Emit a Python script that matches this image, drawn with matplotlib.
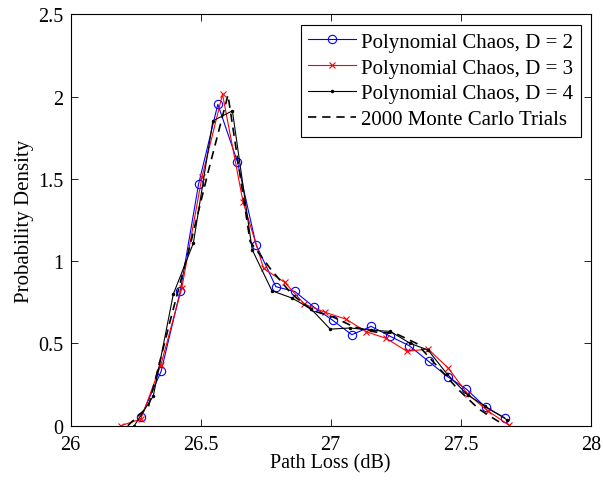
import matplotlib
matplotlib.use('Agg')
import matplotlib.pyplot as plt

plt.rcParams['font.family'] = 'Liberation Serif'
plt.rcParams['mathtext.fontset'] = 'stix'

# D = 2
x_d2 = [26.271, 26.348, 26.422, 26.492, 26.566, 26.641, 26.713, 26.789, 26.862, 26.937,
        27.008, 27.081, 27.155, 27.229, 27.302, 27.376, 27.449, 27.521, 27.595, 27.668]
y_d2 = [0.055, 0.33, 0.82, 1.468, 1.954, 1.606, 1.10, 0.845, 0.816, 0.719,
        0.64, 0.553, 0.604, 0.543, 0.486, 0.391, 0.298, 0.223, 0.112, 0.049]

# D = 3
x_d3 = [26.193, 26.270, 26.347, 26.428, 26.505, 26.584, 26.663, 26.742, 26.823, 26.899,
        26.979, 27.058, 27.137, 27.213, 27.293, 27.374, 27.451, 27.526, 27.603, 27.684]
y_d3 = [0.0, 0.04, 0.369, 0.84, 1.51, 2.015, 1.36, 0.956, 0.871, 0.739,
        0.689, 0.648, 0.571, 0.531, 0.452, 0.466, 0.351, 0.193, 0.091, 0.004]

# D = 4
x_d4 = [26.245, 26.318, 26.395, 26.472, 26.547, 26.622, 26.698, 26.774, 26.851, 26.925,
        26.998, 27.075, 27.155, 27.229, 27.306, 27.374, 27.447, 27.526, 27.594, 27.678]
y_d4 = [0.0, 0.18, 0.80, 1.11, 1.853, 1.914, 1.07, 0.82, 0.776, 0.709,
        0.587, 0.594, 0.581, 0.573, 0.50, 0.46, 0.314, 0.187, 0.118, 0.035]

# Monte Carlo
x_mc = [26.22, 26.30, 26.38, 26.46, 26.53, 26.605, 26.69, 26.77, 26.85, 26.93,
        27.01, 27.09, 27.17, 27.25, 27.33, 27.41, 27.49, 27.57, 27.65]
y_mc = [0.0, 0.12, 0.62, 1.10, 1.55, 2.01, 1.12, 0.95, 0.80, 0.70,
        0.66, 0.60, 0.57, 0.56, 0.50, 0.36, 0.22, 0.10, 0.02]

fig = plt.figure(figsize=(6.03, 4.81), dpi=100)
ax = fig.add_axes([0.117, 0.1129, 0.863, 0.855])

ax.plot(x_d2, y_d2, color='blue', lw=0.8, marker='o', ms=6, mfc='none', mew=0.8,
        label='Polynomial Chaos, D = 2')
ax.plot(x_d3, y_d3, color='red', lw=0.8, marker='x', ms=4.5, mew=0.8,
        label='Polynomial Chaos, D = 3')
ax.plot(x_d4, y_d4, color='black', lw=0.8, marker='.', ms=3,
        label='Polynomial Chaos, D = 4')
ax.plot(x_mc, y_mc, color='black', lw=1.2, ls=(0, (5, 3.5)),
        label='2000 Monte Carlo Trials')

ax.set_xlim(26, 28)
ax.set_ylim(0, 2.5)
ax.set_xticks([26, 26.5, 27, 27.5, 28])
ax.set_xticklabels(['26', '26.5', '27', '27.5', '28'])
ax.set_yticks([0, 0.5, 1, 1.5, 2, 2.5])
ax.set_yticklabels(['0', '0.5', '1', '1.5', '2', '2.5'])
ax.tick_params(direction='in', top=True, right=True, labelsize=14.5, length=5, width=0.6)
ax.tick_params(axis='x', pad=6.5)
ax.tick_params(axis='y', pad=5)
for s in ax.spines.values():
    s.set_linewidth(0.8)

ax.set_xlabel('Path Loss (dB)', fontsize=14.5, labelpad=0)
ax.set_ylabel('Probability Density', fontsize=15, labelpad=3)

leg = ax.legend(loc='upper right', fontsize=15, fancybox=False, framealpha=1,
                edgecolor='black', borderaxespad=0.5, handlelength=2.3,
                handletextpad=0.25, labelspacing=0.3, borderpad=0.35)
leg.get_frame().set_linewidth(0.8)

fig.savefig('out.png', dpi=100)
